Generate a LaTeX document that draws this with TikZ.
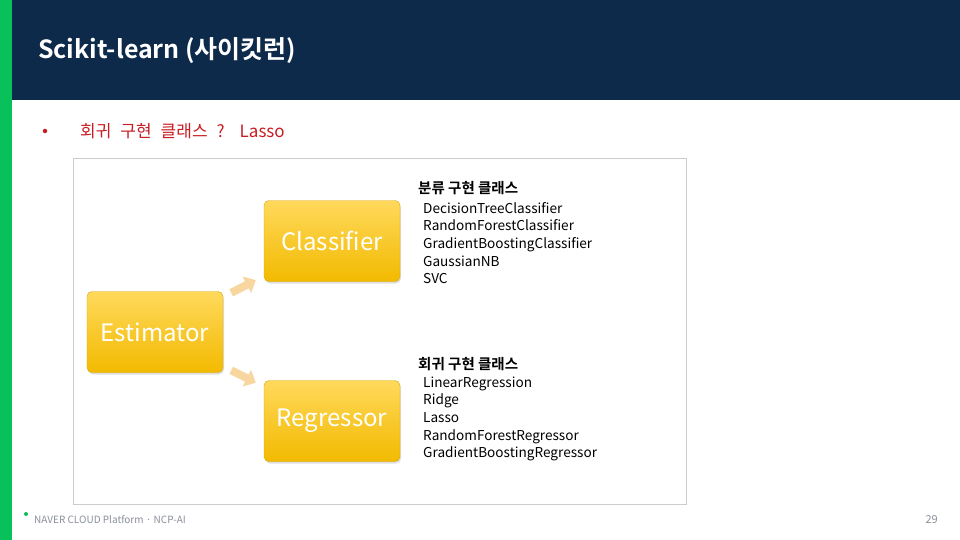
\documentclass[tikz,border=0pt]{standalone}
\usepackage{fontspec}
\setmainfont{Noto Sans CJK KR}[BoldFont={Noto Sans CJK KR Bold}]
\usepackage{tikz}
\usetikzlibrary{arrows.meta,shadows}
\definecolor{navy}{RGB}{14,42,75}
\definecolor{barGreen}{RGB}{9,193,90}
\definecolor{subRed}{RGB}{200,30,35}
\definecolor{boxTop}{RGB}{255,217,92}
\definecolor{boxBot}{RGB}{242,186,0}
\definecolor{peach}{RGB}{248,214,160}
\definecolor{footGray}{RGB}{138,143,153}

\begin{document}
\begin{tikzpicture}[x=1pt,y=-1pt,
  box/.style={rectangle,rounded corners=5pt,minimum width=136pt,minimum height=81pt,
    top color=boxTop,bottom color=boxBot,draw=boxBot!90!black,text=white,
    font=\fontsize{24}{28}\selectfont,
    drop shadow={opacity=0.25,shadow xshift=1pt,shadow yshift=-2pt}},
  blk/.style={line width=8pt,-{Triangle[width=18pt,length=10pt]},peach,
    shorten <=9pt,shorten >=9pt},
  head/.style={anchor=west,inner sep=0pt,font=\bfseries\fontsize{14.5}{17}\selectfont},
  items/.style={anchor=north west,align=left,inner sep=0pt,font=\fontsize{13.6}{17.6}\selectfont}]
\useasboundingbox (0,0) rectangle (960,540);
\fill[white] (0,0) rectangle (960,540);
\fill[barGreen] (0,0) rectangle (12,540);
\fill[navy] (12,0) rectangle (960,100);
\node (title) [anchor=west,inner sep=0pt,text=white,font=\bfseries\fontsize{25}{28}\selectfont] at (38,51) {Scikit-learn (사이킷런)};

\node (dot) [circle,fill=subRed,inner sep=0pt,minimum size=4.5pt] at (45,131) {};
\node (sub) [anchor=west,inner sep=0pt,text=subRed,font=\fontsize{17}{20}\selectfont] at (80,131) {회귀\hspace{9pt}구현\hspace{9pt}클래스\hspace{9pt}?\hspace{15pt}Lasso};

% picture frame
\draw[black!20,line width=1pt] (73,159) rectangle (686,504);

\node (est) [box] at (155,332) {Estimator};
\node (cls) [box] at (332,241) {Classifier};
\node (reg) [box] at (332,421) {Regressor};
\draw[blk] (est) -- (cls);
\draw[blk] (est) -- (reg);

\node (clsHead) [head] at (418,188) {분류 구현 클래스};
\node (clsList) [items] at (423,202) {DecisionTreeClassifier\\RandomForestClassifier\\GradientBoostingClassifier\\GaussianNB\\SVC};
\node (regHead) [head] at (418,364) {회귀 구현 클래스};
\node (regList) [items] at (423,376.5) {LinearRegression\\Ridge\\Lasso\\RandomForestRegressor\\GradientBoostingRegressor};

% footer
\node (fdot) [circle,fill=barGreen,inner sep=0pt,minimum size=4pt] at (26,514) {};
\node (foot) [anchor=west,inner sep=0pt,text=footGray,font=\fontsize{10}{12}\selectfont] at (34,520) {NAVER CLOUD Platform · NCP-AI};
\node (page) [anchor=east,inner sep=0pt,text=footGray,font=\fontsize{11}{13}\selectfont] at (938,520) {29};
\end{tikzpicture}
\end{document}
